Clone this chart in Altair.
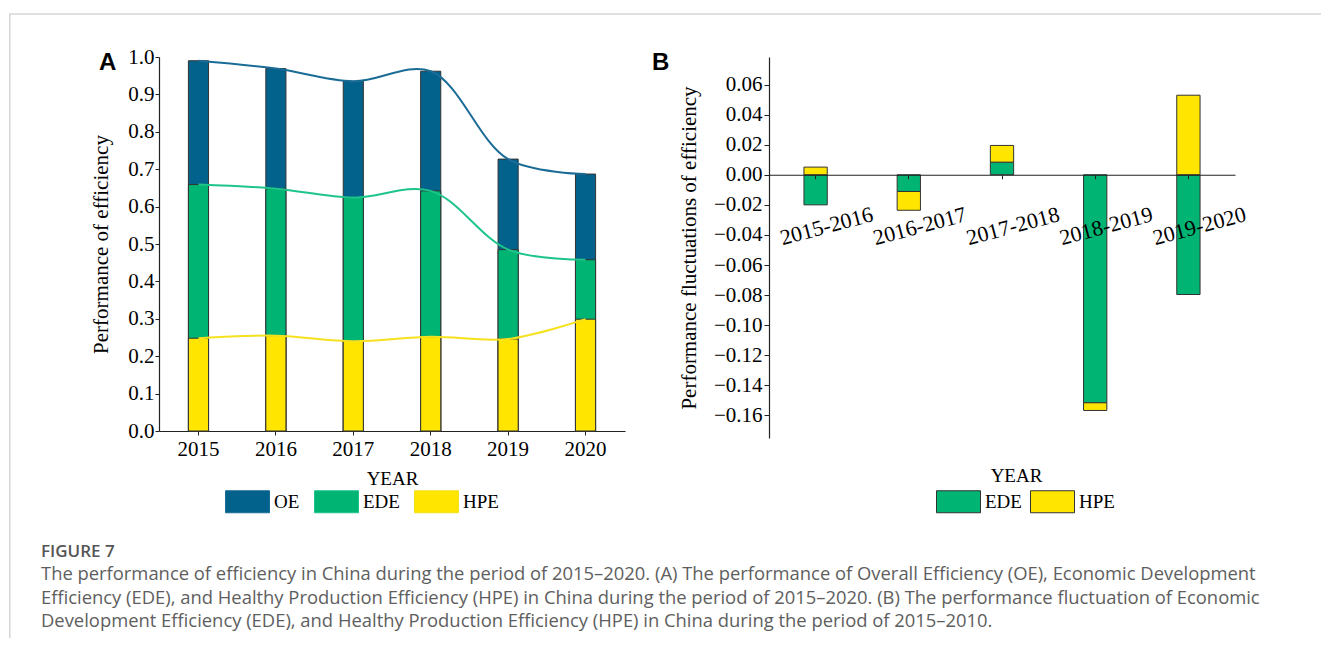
import altair as alt
import pandas as pd

# ---------------- data ----------------
years = ["2015", "2016", "2017", "2018", "2019", "2020"]
oe = [0.990, 0.969, 0.935, 0.962, 0.727, 0.687]
ede = [0.659, 0.648, 0.624, 0.642, 0.485, 0.458]
hpe = [0.248, 0.255, 0.240, 0.252, 0.246, 0.299]
series_a = ["OE", "EDE", "HPE"]

periods = ["2015-2016", "2016-2017", "2017-2018", "2018-2019", "2019-2020"]
ede_fluct = [-0.0200, -0.0111, 0.0084, -0.1516, -0.0796]
hpe_fluct = [0.0051, -0.0125, 0.0111, -0.0051, 0.0529]
series_b = ["EDE", "HPE"]

yticks_a = [0.0, 0.1, 0.2, 0.3, 0.4, 0.5, 0.6, 0.7, 0.8, 0.9, 1.0]
yticks_b = [-0.16, -0.14, -0.12, -0.10, -0.08, -0.06, -0.04, -0.02, 0.0, 0.02, 0.04, 0.06]

caption_head = "FIGURE 7"
caption_lines = [
    "The performance of efficiency in China during the period of 2015\u20132020. (A) The performance of Overall Efficiency (OE), Economic Development",
    "Efficiency (EDE), and Healthy Production Efficiency (HPE) in China during the period of 2015\u20132020. (B) The performance fluctuation of Economic",
    "Development Efficiency (EDE), and Healthy Production Efficiency (HPE) in China during the period of 2015\u20132010.",
]

# ---------------- style ----------------
BLUE, GREEN, YELLOW = "#03628C", "#00B473", "#FFE500"
LINE_COLORS = ["#1A6C97", "#1EC48A", "#F5E11E"]
SERIF = "Liberation Serif"
RECT = "M-1,-0.5H1V0.5H-1Z"

WA, HA = 466, 374
WB = 466
B_TOP, B_BOT = 0.0783, -0.175
HB = 381
zero_px = HB * B_TOP / (B_TOP - B_BOT)

# ---------------- tables ----------------
vals_a = {"OE": oe, "EDE": ede, "HPE": hpe}
df_a = pd.DataFrame(
    [{"year": y, "series": s, "value": vals_a[s][i]} for s in series_a for i, y in enumerate(years)]
)
vals_b = {"EDE": ede_fluct, "HPE": hpe_fluct}
df_b = pd.DataFrame(
    [{"period": p, "component": s, "ord": k, "value": vals_b[s][i]}
     for k, s in enumerate(series_b) for i, p in enumerate(periods)]
)

# ---------------- panel A ----------------
xa_axis = alt.Axis(title="YEAR", labelAngle=0, tickSize=4, labelPadding=3,
                   titleX=233, titleY=47, titleBaseline="middle", titleAlign="center",
                   titleFontSize=19)
ya_axis = alt.Axis(title="Performance of efficiency", values=yticks_a, format=".1f",
                   labelOverlap=False, tickSize=4, labelPadding=1, titlePadding=16)
xa_scale = alt.Scale(paddingInner=0.74, paddingOuter=0.38)
ya_scale = alt.Scale(domain=[0, 1], nice=False)

bars_a = alt.Chart(df_a).mark_bar(stroke="#333333", strokeWidth=1).encode(
    x=alt.X("year:N", sort=years, scale=xa_scale, axis=xa_axis),
    y=alt.Y("value:Q", stack=None, scale=ya_scale, axis=ya_axis),
    color=alt.Color("series:N", scale=alt.Scale(domain=series_a, range=[BLUE, GREEN, YELLOW]),
                    legend=alt.Legend(title=None, orient="none", legendX=66, legendY=422,
                                      direction="horizontal", symbolType=RECT, symbolSize=1936,
                                      symbolStrokeColor="#333333", symbolStrokeWidth=1,
                                      labelFont=SERIF, labelFontSize=19, labelColor="black",
                                      labelOffset=4, columnPadding=12, padding=0)),
)
lines_a = alt.Chart(df_a).mark_line(interpolate="catmull-rom", strokeWidth=2).encode(
    x=alt.X("year:N", sort=years, scale=xa_scale, axis=xa_axis),
    y=alt.Y("value:Q", stack=None, scale=ya_scale, axis=ya_axis),
    stroke=alt.Stroke("series:N", scale=alt.Scale(domain=series_a, range=LINE_COLORS), legend=None),
)

one = pd.DataFrame({"k": [0]})
frame_v = alt.Chart(one).mark_rule(color="#D6D6D6", strokeWidth=1.5).encode(
    x=alt.value(-149.25), y=alt.value(-43), y2=alt.value(581))
frame_h = alt.Chart(one).mark_rule(color="#D6D6D6", strokeWidth=1.5).encode(
    x=alt.value(-150), x2=alt.value(1162), y=alt.value(-43))

label_a = alt.Chart(pd.DataFrame({"t": ["A"]})).mark_text(
    font="Liberation Sans", fontWeight="bold", fontSize=24, align="left", baseline="alphabetic",
    color="black").encode(text="t:N", x=alt.value(-60), y=alt.value(13))

cap_layers = [
    alt.Chart(pd.DataFrame({"t": [caption_head]})).mark_text(
        font="Open Sans", fontWeight=600, fontSize=17, align="left", baseline="alphabetic",
        color="#555555").encode(text="t:N", x=alt.value(-118), y=alt.value(500))
]
for i, line in enumerate(caption_lines):
    cap_layers.append(
        alt.Chart(pd.DataFrame({"t": [line]})).mark_text(
            font="Open Sans", fontSize=18.4, align="left", baseline="alphabetic",
            color="#5E5E5E").encode(text="t:N", x=alt.value(-118), y=alt.value(523 + 23.5 * i))
    )

panel_a = alt.layer(bars_a, lines_a, frame_v, frame_h, label_a, *cap_layers).properties(
    width=WA, height=HA)

# ---------------- panel B ----------------
xb = alt.X("period:N", sort=periods,
           scale=alt.Scale(paddingInner=0.75, paddingOuter=0.375),
           axis=alt.Axis(title="YEAR", offset=-(HB - zero_px), labelAngle=345,
                         labelAlign="center", labelBaseline="middle", labelPadding=47,
                         labelOffset=11, tickSize=4, labelFontSize=22, zindex=1,
                         titleX=247, titleY=301, titleBaseline="middle", titleAlign="center",
                         titleFontSize=19))
yb = alt.Y("value:Q", stack="zero",
           scale=alt.Scale(domain=[B_BOT, B_TOP], nice=False, zero=False),
           axis=alt.Axis(title="Performance fluctuations of efficiency", values=yticks_b,
                         labelOverlap=False, format=".2f", tickSize=5, labelPadding=2,
                         titlePadding=14))

bars_b = alt.Chart(df_b).mark_bar(stroke="#333333", strokeWidth=1).encode(
    x=xb, y=yb,
    order=alt.Order("ord:Q"),
    color=alt.Color("component:N", scale=alt.Scale(domain=series_b, range=[GREEN, YELLOW]),
                    legend=alt.Legend(title=None, orient="none", legendX=167, legendY=422,
                                      direction="horizontal", symbolType=RECT, symbolSize=1936,
                                      symbolStrokeColor="#333333", symbolStrokeWidth=1,
                                      labelFont=SERIF, labelFontSize=19, labelColor="black",
                                      labelOffset=4, columnPadding=6, padding=0)),
)
label_b = alt.Chart(pd.DataFrame({"t": ["B"]})).mark_text(
    font="Liberation Sans", fontWeight="bold", fontSize=24, align="left", baseline="alphabetic",
    color="black").encode(text="t:N", x=alt.value(-117), y=alt.value(13))

panel_b = alt.layer(bars_b, label_b).properties(width=WB, height=HB)

chart = alt.hconcat(panel_a, panel_b, spacing=144).resolve_scale(
    color="independent", stroke="independent"
).resolve_legend(color="independent").properties(
    bounds="flush",
    padding={"left": 0, "top": 5, "right": 0, "bottom": 0},
    background="white",
).configure_view(stroke=None).configure_axis(
    grid=False,
    labelFont=SERIF, labelFontSize=21, labelColor="black",
    titleFont=SERIF, titleFontSize=21, titleFontWeight="normal", titleColor="black",
    domainColor="#222222", tickColor="#222222", domainWidth=1.2, tickWidth=1,
)

chart.save("out.html", embed_options={"renderer": "svg", "actions": False})
